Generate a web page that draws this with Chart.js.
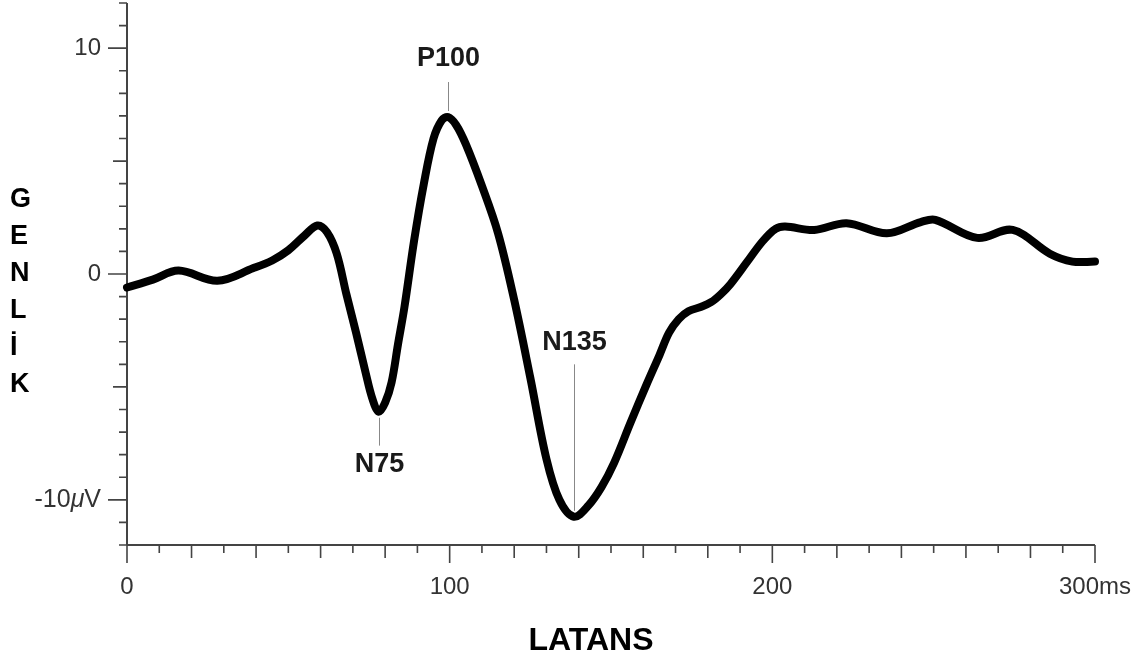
<!DOCTYPE html>
<html>
<head>
<meta charset="utf-8">
<script src="https://cdn.jsdelivr.net/npm/chart.js@4"></script>
<style>
  html, body { margin: 0; padding: 0; background: #fff; }
  #wrap { width: 1147px; height: 661px; }
</style>
</head>
<body>
<div id="wrap"><canvas id="vep" width="1147" height="661"></canvas></div>
<script>
// VEP-kurve (latens i ms, amplitude i µV)
const latencyMs = [0, 8, 16, 28, 39, 45, 50, 55, 59, 62, 65, 68, 71, 74, 76, 78, 80, 82, 84, 86,
  89, 92, 95, 97.5, 99.5, 102, 105, 110, 115, 120, 125, 130, 134, 138.5, 143, 147, 151, 156, 161,
  165, 168, 171, 174, 178, 181, 184, 187, 192, 197, 201, 204, 213, 223, 235.5, 246, 250.5, 263.5,
  274.5, 286, 293, 300];
const amplitudeUv = [-0.6, -0.25, 0.15, -0.3, 0.25, 0.6, 1.05, 1.7, 2.15, 1.85, 0.9, -0.9, -2.6, -4.4, -5.5, -6.1, -5.7, -4.8, -3.1, -1.45,
  1.5, 4.0, 6.0, 6.8, 6.95, 6.6, 5.75, 3.9, 1.8, -1.15, -4.6, -8.2, -10.0, -10.75, -10.25, -9.45, -8.35, -6.6, -4.9,
  -3.6, -2.6, -2.0, -1.65, -1.45, -1.25, -0.9, -0.45, 0.5, 1.45, 2.0, 2.1, 1.95, 2.25, 1.8, 2.3, 2.4, 1.6,
  1.95, 0.9, 0.55, 0.55];

const xTickValues = [0, 100, 200, 300];
const xTickLabels = ["0", "100", "200", "300ms"];
const yTickValues = [10, 0, -10];
const yTickLabels = ["10", "0", "-10"];

// Toppene: navn, latens, amplitude, ende av merkelinje, tekstens nivå
const peakNames = ["N75", "P100", "N135"];
const peakMs = [78, 99.5, 138.5];
const peakUv = [-6.1, 6.95, -10.75];
const peakLineEnd = [-7.6, 8.5, -4.0];
const peakLabelAt = [-8.45, 9.55, -3.05];

const FONT = "'Liberation Sans', Arial, Helvetica, sans-serif";
const AXIS = "#444";

const axesPlugin = {
  id: "vepAxes",
  beforeDatasetsDraw(chart) {
    const { ctx, scales: { x, y } } = chart;
    const x0 = x.getPixelForValue(0), x1 = x.getPixelForValue(300);
    const yTop = y.getPixelForValue(12), yBot = y.getPixelForValue(-12);
    ctx.save();
    ctx.strokeStyle = AXIS;
    ctx.lineWidth = 2;
    ctx.beginPath();
    ctx.moveTo(x0, yTop); ctx.lineTo(x0, yBot);
    ctx.moveTo(x0, yBot); ctx.lineTo(x1, yBot);
    ctx.stroke();

    ctx.lineWidth = 1.6;
    ctx.beginPath();
    for (let v = -12; v <= 12; v++) {
      const len = v % 10 === 0 ? 19 : v % 5 === 0 ? 14 : 8;
      const py = y.getPixelForValue(v);
      ctx.moveTo(x0, py); ctx.lineTo(x0 - len, py);
    }
    for (let v = 0; v <= 300; v += 10) {
      const len = v % 100 === 0 ? 18 : v % 20 === 0 ? 13 : 8;
      const px = x.getPixelForValue(v);
      ctx.moveTo(px, yBot); ctx.lineTo(px, yBot + len);
    }
    ctx.stroke();

    ctx.fillStyle = "#333";
    ctx.font = `24px ${FONT}`;
    ctx.textBaseline = "middle";
    ctx.textAlign = "center";
    xTickValues.forEach((v, i) => ctx.fillText(xTickLabels[i], x.getPixelForValue(v), 587));

    yTickValues.forEach((v, i) => {
      const py = y.getPixelForValue(v);
      let right = 101;
      if (v === -10) {
        // enhet µV med kursiv µ
        ctx.textAlign = "right";
        ctx.font = `25px ${FONT}`;
        ctx.fillText("V", right, py);
        right -= ctx.measureText("V").width;
        ctx.font = `italic 25px ${FONT}`;
        ctx.fillText("\u03bc", right, py);
        right -= ctx.measureText("\u03bc").width;
        ctx.font = `25px ${FONT}`;
      }
      ctx.textAlign = "right";
      ctx.fillText(yTickLabels[i], right, py);
      ctx.font = `24px ${FONT}`;
    });

    // aksetitler
    ctx.fillStyle = "#000";
    ctx.font = `bold 32px ${FONT}`;
    ctx.textAlign = "center";
    ctx.fillText("LATANS", 591, 641);
    ctx.textAlign = "left";
    ctx.font = `bold 27px ${FONT}`;
    "GENLİK".split("").forEach((ch, i) => ctx.fillText(ch, 10, 200 + i * 37));
    ctx.restore();
  },
  afterDatasetsDraw(chart) {
    const { ctx, scales: { x, y } } = chart;
    ctx.save();
    ctx.strokeStyle = "#888";
    ctx.lineWidth = 1;
    ctx.fillStyle = "#1a1a1a";
    ctx.font = `bold 27px ${FONT}`;
    ctx.textAlign = "center";
    ctx.textBaseline = "middle";
    peakNames.forEach((name, i) => {
      const px = Math.round(x.getPixelForValue(peakMs[i])) + 0.5;
      const a = y.getPixelForValue(peakUv[i]);
      const b = y.getPixelForValue(peakLineEnd[i]);
      const dir = b > a ? 6 : -6;
      ctx.beginPath();
      ctx.moveTo(px, a + dir); ctx.lineTo(px, b);
      ctx.stroke();
      ctx.fillText(name, px, y.getPixelForValue(peakLabelAt[i]));
    });
    ctx.restore();
  },
};

new Chart(document.getElementById("vep"), {
  type: "line",
  data: {
    datasets: [{
      data: latencyMs.map((ms, i) => ({ x: ms, y: amplitudeUv[i] })),
      borderColor: "#000", borderWidth: 8, pointRadius: 0, tension: 0.35,
      borderCapStyle: "round", borderJoinStyle: "round",
      clip: false,
    }],
  },
  options: {
    responsive: false, animation: false, events: [],
    layout: { padding: { left: 127, right: 52, top: 3, bottom: 116 } },
    scales: {
      x: { type: "linear", min: 0, max: 300, display: false },
      y: { type: "linear", min: -12, max: 12, display: false },
    },
    plugins: { legend: { display: false }, tooltip: { enabled: false } },
  },
  plugins: [axesPlugin],
});
</script>
</body>
</html>
